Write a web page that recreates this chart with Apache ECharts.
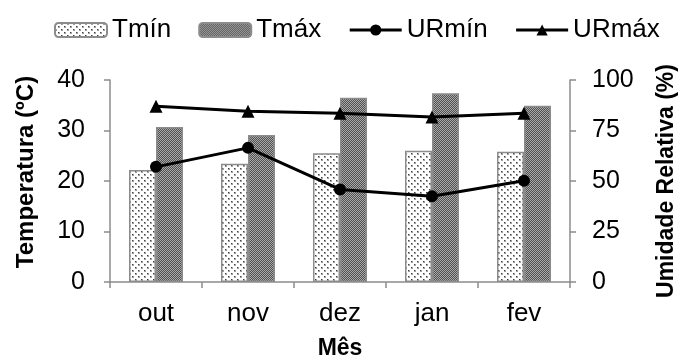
<!DOCTYPE html>
<html>
<head>
<meta charset="utf-8">
<script src="https://cdn.jsdelivr.net/npm/echarts@6/dist/echarts.min.js"></script>
<style>
html,body{margin:0;padding:0;background:#fff;}
#chart{width:681px;height:358px;}
</style>
</head>
<body>
<div id="chart"></div>
<script>
var categories = ['out', 'nov', 'dez', 'jan', 'fev'];
var tMin = [22.2, 23.4, 25.5, 26.0, 25.8];
var tMax = [30.7, 29.1, 36.5, 37.4, 34.9];
var urMin = [57.0, 66.4, 45.8, 42.5, 50.1];
var urMax = [87.0, 84.5, 83.5, 81.7, 83.6];

function dotPattern() {
  var c = document.createElement('canvas');
  c.width = 6; c.height = 6;
  var g = c.getContext('2d');
  g.fillStyle = '#ffffff'; g.fillRect(0, 0, 6, 6);
  g.fillStyle = '#a0a0a0';
  g.fillRect(0, 0, 2, 2); g.fillRect(3, 3, 2, 2);
  g.fillStyle = '#404040';
  g.fillRect(0, 0, 1, 1); g.fillRect(3, 3, 1, 1);
  return c;
}
function checkPattern() {
  var c = document.createElement('canvas');
  c.width = 2; c.height = 2;
  var g = c.getContext('2d');
  g.fillStyle = '#505050'; g.fillRect(0, 0, 2, 2);
  g.fillStyle = '#aaaaaa';
  g.fillRect(0, 0, 1, 1); g.fillRect(1, 1, 1, 1);
  return c;
}

var font = 'Liberation Sans, Arial, sans-serif';
var axisGray = '#8c8c8c';
var chart = echarts.init(document.getElementById('chart'));
chart.setOption({
  animation: false,
  backgroundColor: '#ffffff',
  textStyle: { fontFamily: font },
  legend: {
    top: 12,
    left: 49,
    itemWidth: 52,
    itemHeight: 14,
    itemGap: 27,
    lineStyle: { width: 3 },
    textStyle: { fontSize: 26, color: '#000', fontFamily: font },
    data: ['Tmín', 'Tmáx', 'URmín', 'URmáx']
  },
  grid: { left: 110, right: 111, top: 80, bottom: 76, outerBoundsMode: 'none', containLabel: false },
  xAxis: {
    type: 'category',
    data: categories,
    name: 'Mês',
    nameLocation: 'middle',
    nameGap: 55,
    nameTextStyle: { fontSize: 23, fontWeight: 'bold', color: '#000', fontFamily: font },
    axisLine: { lineStyle: { color: axisGray, width: 1.5 } },
    axisTick: { show: true, length: 6, lineStyle: { color: axisGray, width: 1.5 } },
    axisLabel: { fontSize: 26, color: '#000', margin: 19, fontFamily: font }
  },
  yAxis: [
    {
      type: 'value', min: 0, max: 40, interval: 10,
      name: 'Temperatura (ºC)',
      nameLocation: 'middle', nameRotate: 90, nameGap: 72,
      nameTextStyle: { fontSize: 24, fontWeight: 'bold', color: '#000', fontFamily: font, padding: [0, 0, 0, 18] },
      axisLine: { show: true, lineStyle: { color: axisGray, width: 1.5 } },
      axisTick: { show: true, length: 6, lineStyle: { color: axisGray, width: 1.5 } },
      axisLabel: { fontSize: 25, color: '#000', margin: 25, fontFamily: font },
      splitLine: { show: false }
    },
    {
      type: 'value', min: 0, max: 100, interval: 25,
      name: 'Umidade Relativa (%)',
      nameLocation: 'middle', nameRotate: 90, nameGap: 85,
      nameTextStyle: { fontSize: 23, fontWeight: 'bold', color: '#000', fontFamily: font },
      axisLine: { show: true, lineStyle: { color: axisGray, width: 1.5 } },
      axisTick: { show: true, length: 6, lineStyle: { color: axisGray, width: 1.5 } },
      axisLabel: { fontSize: 25, color: '#000', margin: 22, fontFamily: font },
      splitLine: { show: false }
    }
  ],
  series: [
    {
      name: 'Tmín', type: 'bar', yAxisIndex: 0, data: tMin,
      barWidth: 27, barGap: '0%',
      itemStyle: { color: { image: dotPattern(), repeat: 'repeat' }, borderColor: axisGray, borderWidth: 1.5 }
    },
    {
      name: 'Tmáx', type: 'bar', yAxisIndex: 0, data: tMax,
      barWidth: 27, barGap: '0%',
      itemStyle: { color: { image: checkPattern(), repeat: 'repeat' }, borderColor: axisGray, borderWidth: 1.5 }
    },
    {
      name: 'URmín', type: 'line', yAxisIndex: 1, data: urMin,
      symbol: 'circle', symbolSize: 12,
      lineStyle: { color: '#000', width: 3 },
      itemStyle: { color: '#000' }
    },
    {
      name: 'URmáx', type: 'line', yAxisIndex: 1, data: urMax,
      symbol: 'triangle', symbolSize: 13,
      lineStyle: { color: '#000', width: 3 },
      itemStyle: { color: '#000' }
    }
  ]
});
</script>
</body>
</html>
